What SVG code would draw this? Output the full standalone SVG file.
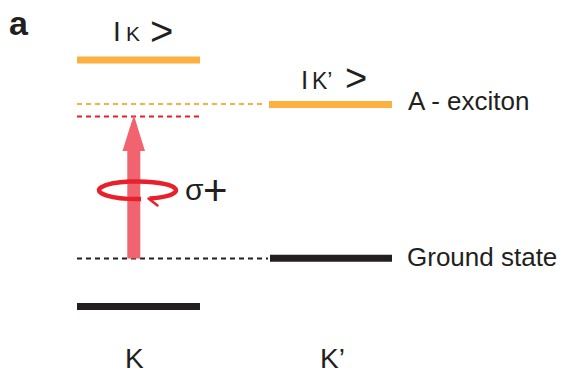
<svg xmlns="http://www.w3.org/2000/svg" width="566" height="382" viewBox="0 0 566 382">
<style>
  .t { font-family: "Liberation Sans", Arial, sans-serif; fill: #231F20; }
  .dash { stroke-width: 2; stroke-dasharray: 5 4; fill: none; }
  .lvl { stroke-width: 7; fill: none; }
</style>
<rect width="566" height="382" fill="#fff"/>
<text class="t" x="9" y="35" font-size="34" font-weight="bold">a</text>

<g id="connectors">
  <line class="dash" x1="77" y1="104" x2="266" y2="104" stroke="#FBB040"/>
  <line class="dash" x1="77" y1="116.5" x2="202" y2="116.5" stroke="#E8202A" stroke-width="2.5"/>
  <line class="dash" x1="77" y1="258.5" x2="268" y2="258.5" stroke="#231F20"/>
</g>

<g id="K-excited">
  <line class="lvl" x1="77" y1="60" x2="200" y2="60" stroke="#FBB040"/>
  <text class="t"><tspan x="113" y="41" font-size="28">I</tspan><tspan x="126" y="41" font-size="21">K</tspan><tspan x="150" y="45" font-size="40">&gt;</tspan></text>
</g>

<g id="Kp-excited">
  <line class="lvl" x1="269" y1="104.5" x2="392" y2="104.5" stroke="#FBB040"/>
  <text class="t"><tspan x="301" y="89" font-size="26">I</tspan><tspan x="312" y="89" font-size="23">K’</tspan><tspan x="345" y="91" font-size="38">&gt;</tspan></text>
</g>
<text id="label-exciton" class="t" x="408" y="110" font-size="26">A - exciton</text>

<g id="Kp-ground">
  <line class="lvl" x1="270" y1="258.2" x2="392" y2="258.2" stroke="#231F20" stroke-width="8"/>
</g>
<text id="label-ground" class="t" x="407" y="266" font-size="26">Ground state</text>

<g id="K-ground">
  <line class="lvl" x1="77" y1="306.5" x2="200" y2="306.5" stroke="#231F20" stroke-width="8"/>
</g>

<g id="excitation">
  <rect x="127.3" y="150" width="13" height="108.5" fill="#F1636E"/>
  <polygon points="122.5,151 145,151 133.8,115" fill="#F1636E"/>
  <path d="M 141 199 A 38.5 8.8 0 1 1 149.5 198.6" fill="none" stroke="#E8202A" stroke-width="4.5"/>
  <line x1="148.5" y1="198.6" x2="157.5" y2="205.5" stroke="#E8202A" stroke-width="2.5" stroke-linecap="round"/>
  <text class="t"><tspan x="185" y="200" font-size="30">σ</tspan><tspan x="203" y="205" font-size="42">+</tspan></text>
</g>

<text id="label-K" class="t" x="125" y="368" font-size="28">K</text>
<text id="label-Kp" class="t" x="320" y="368" font-size="28">K’</text>
</svg>
